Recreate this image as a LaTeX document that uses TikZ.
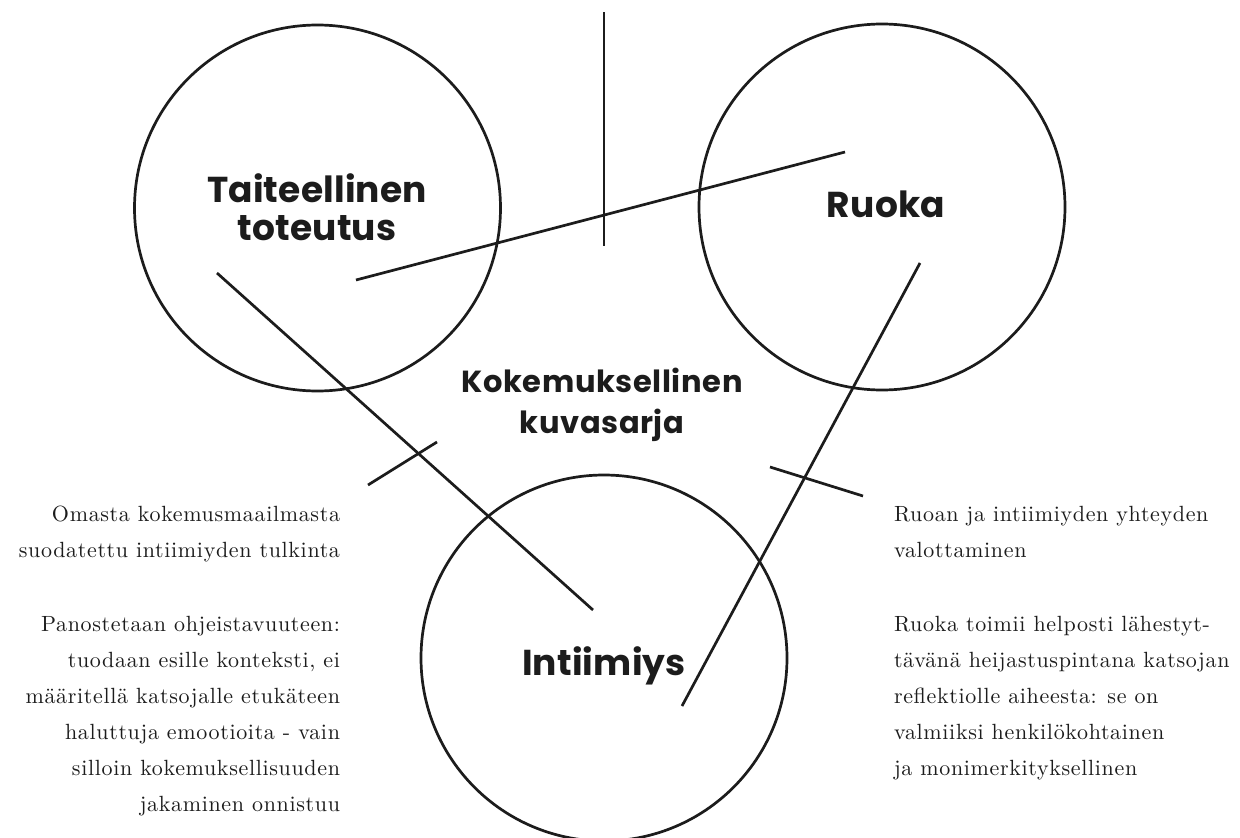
\documentclass[tikz,border=0pt]{standalone}
\usepackage{fontspec}
\newfontfamily\headfont{Poppins}
\newfontfamily\bodyfont{lmroman10-regular.otf}[LetterSpace=3]
\definecolor{ink}{HTML}{1C1C1C}
\begin{document}
\begin{tikzpicture}[x=1pt,y=-1pt,
  every node/.style={inner sep=0pt, outer sep=0pt, text=ink},
  bigcirc/.style={draw=ink, line width=2.7pt, circle, minimum size=366pt},
  link/.style={draw=ink, line width=2.7pt},
  headA/.style={font=\headfont\bfseries\fontsize{36}{40}\selectfont\addfontfeature{LetterSpace=0.5}},
  headB/.style={font=\headfont\bfseries\fontsize{30.5}{36}\selectfont\addfontfeature{LetterSpace=2}},
  body/.style={font=\bodyfont\fontsize{22}{36}\selectfont}]
\useasboundingbox (0,0) rectangle (1240,838);
\fill[white] (0,0) rectangle (1240,838);
% circles
\node[bigcirc] (cL) at (317.5,208) {};
\node[bigcirc] (cR) at (882,207) {};
\node[bigcirc] (cB) at (604,658) {};
% circle labels
\node[headA, anchor=base] (tL1) at (317,202) {Taiteellinen};
\node[headA, anchor=base] (tL2) at (317,240) {toteutus};
\node[headA, anchor=base] (tR) at (886,217) {Ruoka};
\node[headA, anchor=base] (tB) at (604,675) {Intiimiys};
\node[headB, anchor=base] (tC1) at (602,392) {Kokemuksellinen};
\node[headB, anchor=base] (tC2) at (602,433) {kuvasarja};
% line end points
\coordinate (v1) at (604,12);  \coordinate (v2) at (604,246);
\coordinate (a1) at (356,280); \coordinate (a2) at (845,152);
\coordinate (b1) at (217,273); \coordinate (b2) at (593,610);
\coordinate (c1) at (920,263); \coordinate (c2) at (682,706);
\coordinate (d1) at (368,485); \coordinate (d2) at (437,442);
\coordinate (e1) at (770,467); \coordinate (e2) at (863,496);
\draw[link] (v1) -- (v2);
\draw[link] (a1) -- (a2);
\draw[link] (b1) -- (b2);
\draw[link] (c1) -- (c2);
\draw[link] (d1) -- (d2);
\draw[link] (e1) -- (e2);
% left text
\foreach \t [count=\i] in {Omasta kokemusmaailmasta, suodatettu intiimiyden tulkinta}
  \node[body, anchor=base east] (lt\i) at (340,{521+36*(\i-1)}) {\t};
\foreach \t [count=\i] in {Panostetaan ohjeistavuuteen:, {tuodaan esille konteksti, ei}, määritellä katsojalle etukäteen, haluttuja emootioita - vain, silloin kokemuksellisuuden, jakaminen onnistuu}
  \node[body, anchor=base east] (lp\i) at (340,{631+36*(\i-1)}) {\t};
% right text
\foreach \t [count=\i] in {Ruoan ja intiimiyden yhteyden, valottaminen}
  \node[body, anchor=base west] (rt\i) at (894,{521+36*(\i-1)}) {\t};
\foreach \t [count=\i] in {Ruoka toimii helposti lähestyt-, tävänä heijastuspintana katsojan, reflektiolle aiheesta: se on, valmiiksi henkilökohtainen, ja monimerkityksellinen}
  \node[body, anchor=base west] (rp\i) at (894,{631+36*(\i-1)}) {\t};
\end{tikzpicture}
\end{document}
